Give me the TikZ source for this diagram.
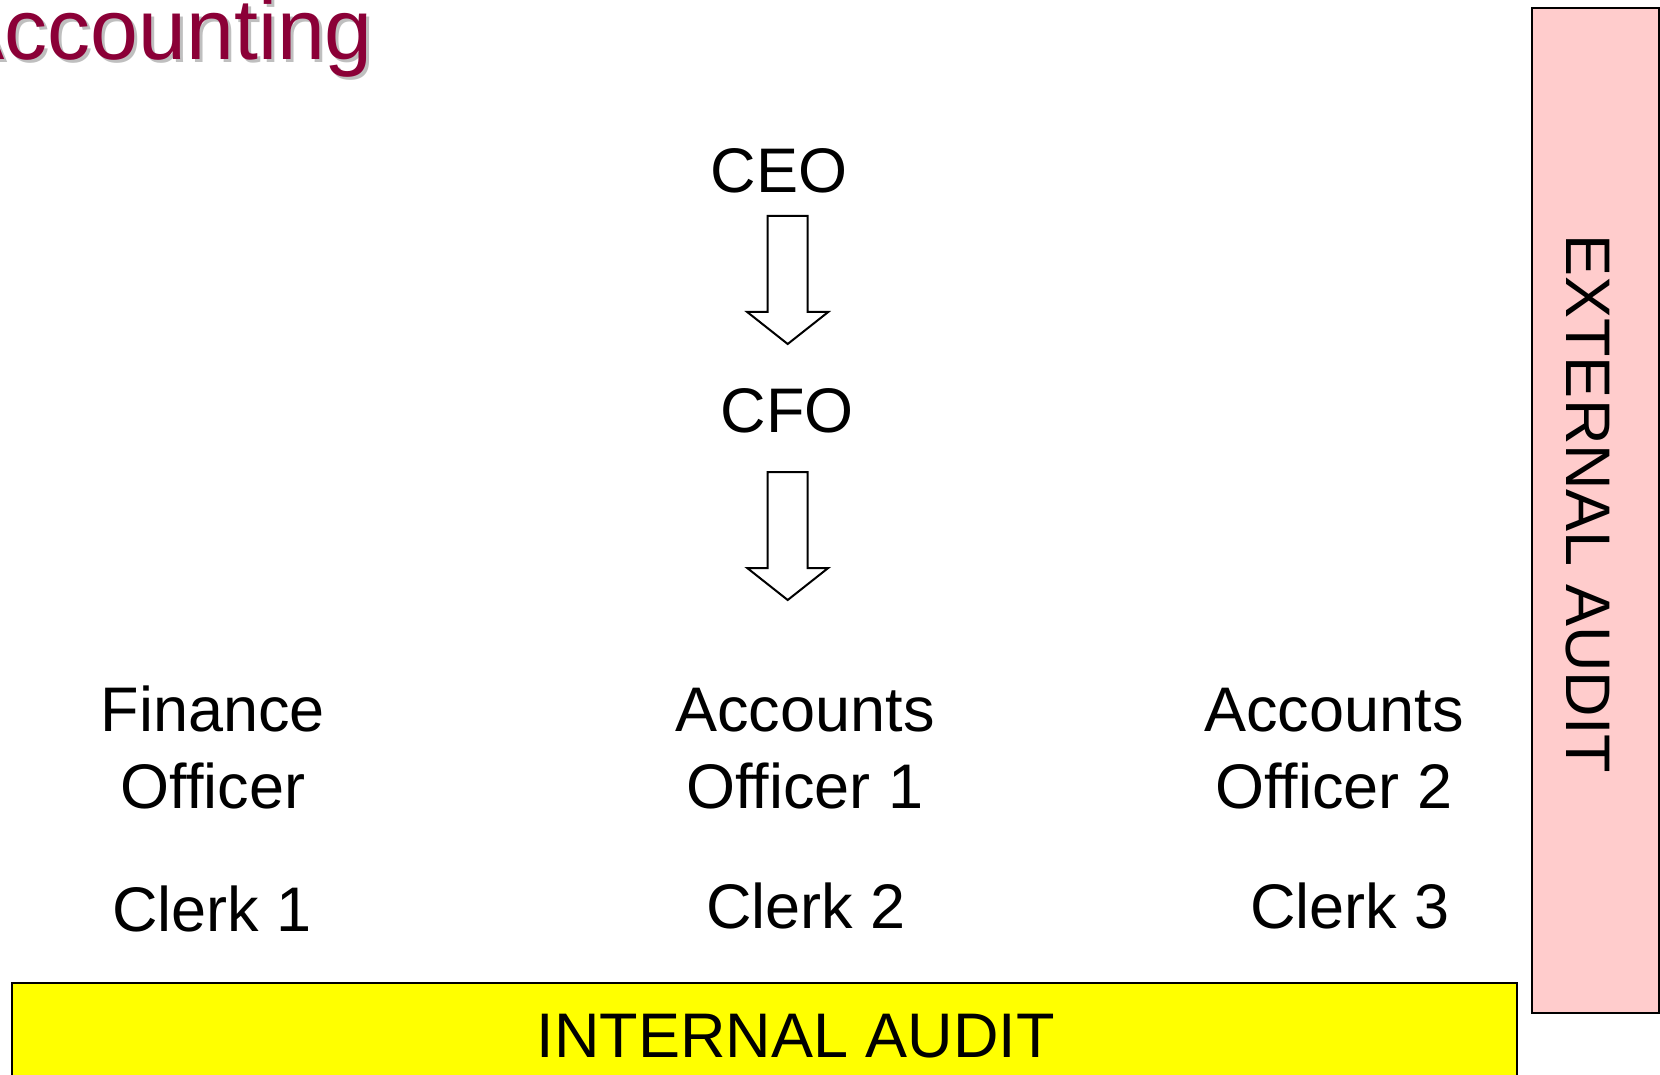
\documentclass[tikz,border=0pt]{standalone}
\usepackage{fontspec}
\setmainfont{Liberation Sans}
\definecolor{titlered}{RGB}{139,0,55}
\definecolor{auditpink}{RGB}{255,204,204}
\definecolor{audityellow}{RGB}{255,255,0}
\begin{document}
\begin{tikzpicture}[x=1pt,y=-1pt,
  lbl/.style={font=\fontsize{63}{77}\selectfont, inner sep=0pt, anchor=base, align=center},
  titletext/.style={font=\fontsize{86}{90}\selectfont, inner sep=0pt, anchor=base east},
  auditbox/.style={draw=black, line width=2.5pt},
  blockarr/.style={draw=black, fill=white, line width=2pt, line join=miter},
  downarrow/.pic={\draw[blockarr] (-20,0) -- (-20,96) -- (-40.5,96) -- (0,128) -- (40.5,96) -- (20,96) -- (20,0) -- cycle;}
]
\useasboundingbox (0,0) rectangle (1660,1075);
\clip (0,0) rectangle (1660,1075);
\fill[white] (0,0) rectangle (1660,1075);

% title with shadow
\node[titletext, text=black!25] (titleshadow) at (376,63) {Accounting};
\node[titletext, text=titlered] (title) at (373,60) {Accounting};

% audit boxes
\draw[auditbox, fill=auditpink] (1532,8) rectangle (1659,1013);
\node[lbl, rotate=-90] (ext) at (1566,504) {EXTERNAL AUDIT};
\draw[auditbox, fill=audityellow] (12,983) rectangle (1517,1085);
\node[lbl] (int) at (796,1057) {INTERNAL AUDIT};

% hierarchy
\node[lbl] (ceo) at (779,193) {CEO};
\node[lbl] (cfo) at (787,432) {CFO};
\coordinate (a1) at (787.7,216);
\coordinate (a2) at (787.7,472);
\pic at (a1) {downarrow};
\pic at (a2) {downarrow};

\node[lbl] (fo) at (213,808) {Finance\\Officer};
\node[lbl] (ao1) at (805,808) {Accounts\\Officer 1};
\node[lbl] (ao2) at (1334,808) {Accounts\\Officer 2};

\node[lbl] (c1) at (212,931) {Clerk 1};
\node[lbl] (c2) at (806,928) {Clerk 2};
\node[lbl] (c3) at (1350,928) {Clerk 3};
\end{tikzpicture}
\end{document}
